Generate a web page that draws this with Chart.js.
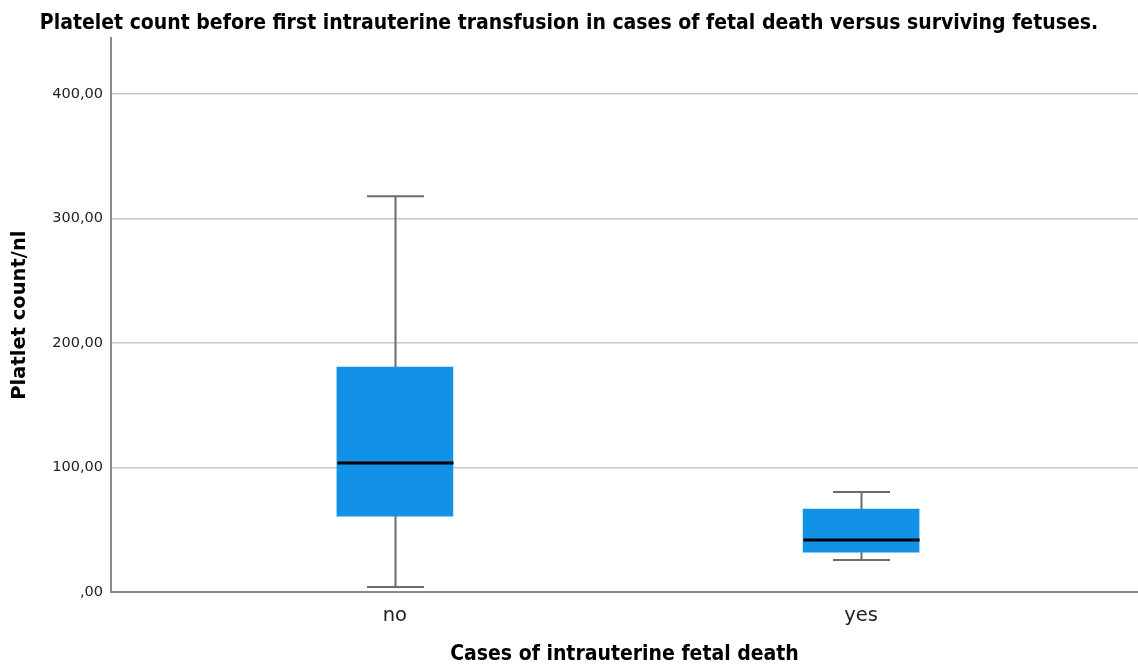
<!DOCTYPE html>
<html>
<head>
<meta charset="utf-8">
<script src="https://cdn.jsdelivr.net/npm/chart.js@4"></script>
<style>
  html, body { margin: 0; padding: 0; background: #fff; }
  #wrap { width: 1138px; height: 667px; }
</style>
</head>
<body>
<div id="wrap"><canvas id="c" width="1138" height="667"></canvas></div>
<script>
// box plot values
const categories = ["no", "yes"];
const whiskerLow = [4, 25.7];
const q1 = [61, 32];
const median = [103.6, 41.8];
const q3 = [180.7, 66.7];
const whiskerHigh = [318, 80.3];
const yTicks = [0, 100, 200, 300, 400];

function fmt(v) {
  if (v === 0) return ",00";
  return v.toFixed(2).replace(".", ",");
}

// whiskers and median line drawn on the chart scales
const boxPlotLines = {
  id: "boxPlotLines",
  afterDatasetsDraw(chart) {
    const ctx = chart.ctx;
    const xs = chart.scales.x, ys = chart.scales.y;
    const boxW = 116, capW = 57;
    ctx.save();
    categories.forEach((c, i) => {
      const cx = Math.round(xs.getPixelForValue(i)) + 0.5;
      const yHi = ys.getPixelForValue(whiskerHigh[i]);
      const yLo = ys.getPixelForValue(whiskerLow[i]);
      const yQ1 = ys.getPixelForValue(q1[i]);
      const yQ3 = ys.getPixelForValue(q3[i]);
      const yMed = ys.getPixelForValue(median[i]);
      ctx.strokeStyle = "#6b6b6b";
      ctx.lineWidth = 2;
      ctx.beginPath();
      ctx.moveTo(cx, yHi); ctx.lineTo(cx, yQ3);
      ctx.moveTo(cx, yQ1); ctx.lineTo(cx, yLo);
      ctx.moveTo(cx - capW / 2, yHi); ctx.lineTo(cx + capW / 2, yHi);
      ctx.moveTo(cx - capW / 2, yLo); ctx.lineTo(cx + capW / 2, yLo);
      ctx.stroke();
      ctx.strokeStyle = "#000";
      ctx.lineWidth = 3;
      ctx.beginPath();
      ctx.moveTo(cx - boxW / 2, yMed); ctx.lineTo(cx + boxW / 2, yMed);
      ctx.stroke();
    });
    ctx.restore();
  }
};

new Chart(document.getElementById("c"), {
  type: "bar",
  data: {
    datasets: [{
      data: categories.map((c, i) => ({ x: i, y: [q1[i], q3[i]] })),
      backgroundColor: "#1292e6",
      borderWidth: 0,
      barThickness: 116
    }]
  },
  options: {
    responsive: false,
    animation: false,
    layout: { padding: { left: 0, right: 0, top: 0, bottom: 0 } },
    plugins: {
      legend: { display: false },
      tooltip: { enabled: false },
      title: {
        display: true,
        text: "Platelet count before first intrauterine transfusion in cases of fetal death versus surviving fetuses.",
        color: "#000",
        font: { family: "'Liberation Sans Narrow', 'DejaVu Sans Condensed', sans-serif", size: 21, weight: "bold" },
        padding: { top: 11, bottom: 2 }
      }
    },
    scales: {
      x: {
        type: "linear",
        offset: false,
        min: -0.609,
        max: 1.594,
        grid: { display: false },
        border: { display: true, color: "#8a8a8a", width: 2 },
        afterBuildTicks(scale) { scale.ticks = categories.map((c, i) => ({ value: i })); },
        afterFit(scale) { scale.height = 75; },
        ticks: {
          color: "#222",
          padding: 4,
          font: { family: "'DejaVu Sans', sans-serif", size: 19.5 },
          callback: (v) => categories[v]
        },
        title: {
          display: true,
          text: "Cases of intrauterine fetal death",
          color: "#000",
          font: { family: "'Liberation Sans Narrow', 'DejaVu Sans Condensed', sans-serif", size: 21, weight: "bold" },
          padding: { top: 0, bottom: 0 }
        }
      },
      y: {
        min: 0,
        max: 445,
        grid: { color: "#c8c8c8", lineWidth: 1.5, drawTicks: false },
        border: { display: true, color: "#8a8a8a", width: 2 },
        afterBuildTicks(scale) { scale.ticks = yTicks.map(v => ({ value: v })); },
        afterFit(scale) { scale.width = 111; },
        ticks: {
          color: "#222",
          padding: 8,
          font: { family: "'DejaVu Sans', sans-serif", size: 14.5 },
          callback: (v) => fmt(v)
        },
        title: {
          display: true,
          text: "Platlet count/nl",
          color: "#000",
          font: { family: "'DejaVu Sans', sans-serif", size: 19.5, weight: "bold" },
          padding: { top: 8, bottom: 0 }
        }
      }
    }
  },
  plugins: [boxPlotLines]
});
</script>
</body>
</html>
